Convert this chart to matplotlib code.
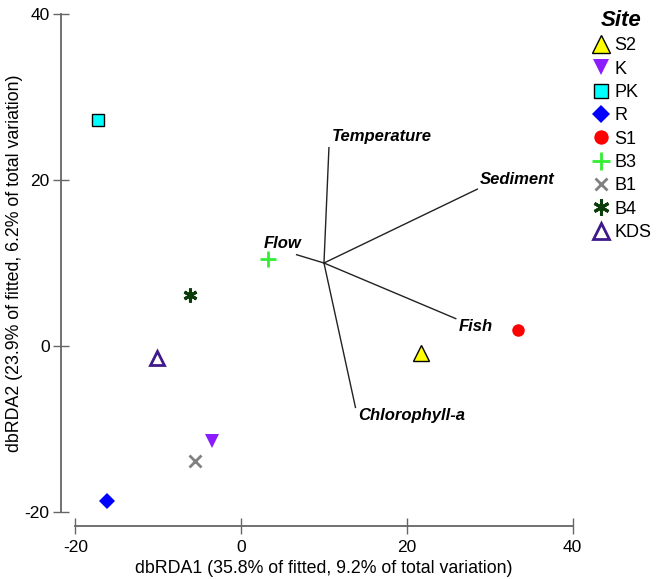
import matplotlib.pyplot as plt
from matplotlib.lines import Line2D

plt.rcParams["font.family"] = ["Liberation Sans", "DejaVu Sans"]
plt.rcParams["axes.unicode_minus"] = False

# site scores
sites = ["S2", "K", "PK", "R", "S1", "B3", "B1", "B4", "KDS"]
site_x = [21.7, -3.5, -17.2, -16.2, 33.4, 3.3, -5.6, -6.2, -10.1]
site_y = [-0.9, -11.4, 27.2, -18.7, 1.9, 10.5, -13.9, 6.1, -1.4]

# vector overlay (origin + end points)
origin = (10.0, 10.0)
vectors = ["Temperature", "Sediment", "Flow", "Fish", "Chlorophyll-a"]
vec_x = [10.6, 28.5, 6.7, 25.9, 13.8]
vec_y = [23.9, 18.9, 11.0, 3.3, -7.4]

x_ticks = [-20, 0, 20, 40]
y_ticks = [-20, 0, 20, 40]

styles = {
    "S2": dict(marker="^", facecolor="#FFFF00", edgecolor="black", size=11, lw=1.0),
    "K": dict(marker="v", facecolor="#8A1CFF", edgecolor="none", size=10, lw=0),
    "PK": dict(marker="s", facecolor="#00FFFF", edgecolor="black", size=9, lw=1.0),
    "R": dict(marker="D", facecolor="#0000FF", edgecolor="none", size=8, lw=0),
    "S1": dict(marker="o", facecolor="#FF0000", edgecolor="none", size=9, lw=0),
    "B3": dict(marker="+", facecolor="#33EE33", edgecolor="#33EE33", size=11, lw=2.0),
    "B1": dict(marker="x", facecolor="#808080", edgecolor="#808080", size=8, lw=2.0),
    "B4": dict(marker=(6, 2, 0), facecolor="#0B3D0B", edgecolor="#0B3D0B", size=10, lw=2.2),
    "KDS": dict(marker="^", facecolor="none", edgecolor="#3E1A8A", size=10, lw=2.0),
}

# label offsets in points relative to vector ends
label_off = {
    "Temperature": (2, 8, "left"),
    "Sediment": (2, 7, "left"),
    "Flow": (-10, 8, "center"),
    "Fish": (2, -6, "left"),
    "Chlorophyll-a": (2, -6, "left"),
}

fig = plt.figure(figsize=(6.58, 5.79), dpi=100)
ax = fig.add_axes([0.1144, 0.1157, 0.7559, 0.8601])

for vx, vy, name in zip(vec_x, vec_y, vectors):
    ax.plot([origin[0], vx], [origin[1], vy], color="#222222", linewidth=1.0, zorder=1)
    dx, dy, ha = label_off[name]
    ax.annotate(name, (vx, vy), xytext=(dx, dy), textcoords="offset points",
                ha=ha, va="center", fontsize=12, fontweight="bold", fontstyle="italic")

handles = []
for name, x, y in zip(sites, site_x, site_y):
    st = styles[name]
    h = Line2D([x], [y], linestyle="none", marker=st["marker"], markersize=st["size"],
               markerfacecolor=st["facecolor"], markeredgecolor=st["edgecolor"],
               markeredgewidth=st["lw"], label=name, zorder=3)
    ax.add_line(h)
    handles.append(h)

ax.set_xlim(-20, 40)
ax.set_ylim(-20, 40)
ax.set_xticks(x_ticks)
ax.set_yticks(y_ticks)

for side in ("top", "right"):
    ax.spines[side].set_visible(False)
ax.spines["left"].set_position(("outward", 10))
ax.spines["bottom"].set_position(("outward", 10))
ax.spines["left"].set_bounds(-20, 40)
ax.spines["bottom"].set_bounds(-20, 40)
for side in ("left", "bottom"):
    ax.spines[side].set_color("#666666")
    ax.spines[side].set_linewidth(1.3)
ax.tick_params(direction="inout", length=11, width=1.0, color="#666666",
               labelsize=12.5, pad=3)
ax.tick_params(axis="x", pad=5)

ax.set_xlabel("dbRDA1 (35.8% of fitted, 9.2% of total variation)", fontsize=12.8, labelpad=3)
ax.set_ylabel("dbRDA2 (23.9% of fitted, 6.2% of total variation)", fontsize=12.8, labelpad=1)

leg = fig.legend(handles=handles, loc="upper left", bbox_to_anchor=(0.888, 0.995),
                 frameon=False, fontsize=13, labelspacing=0.35, handletextpad=0.25,
                 handlelength=1.0, borderaxespad=0, title="Site", markerscale=1.15)
leg.get_title().set_fontweight("bold")
leg.get_title().set_fontstyle("italic")
leg.get_title().set_fontsize(16)

fig.savefig("out.png", dpi=100)
